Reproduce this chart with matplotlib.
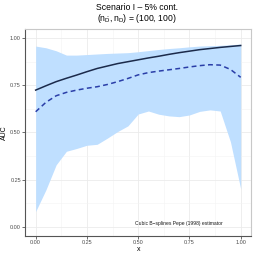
import numpy as np
import matplotlib.pyplot as plt
from matplotlib.ticker import MultipleLocator

plt.rcParams['font.family'] = ['Liberation Sans', 'DejaVu Sans']
plt.rcParams['mathtext.fontset'] = 'custom'
plt.rcParams['mathtext.rm'] = 'Liberation Sans'

# Data
x = [0.0, 0.05, 0.1, 0.15, 0.2, 0.25, 0.3, 0.35, 0.4, 0.45, 0.5, 0.55, 0.6, 0.65, 0.7, 0.75, 0.8, 0.85, 0.9, 0.95, 1.0]
auc_true = [0.725, 0.748, 0.770, 0.788, 0.805, 0.823, 0.840, 0.853, 0.866, 0.876, 0.886, 0.896, 0.905, 0.915, 0.924, 0.932, 0.940, 0.946, 0.952, 0.957, 0.962]
auc_est = [0.610, 0.660, 0.695, 0.713, 0.725, 0.735, 0.743, 0.755, 0.770, 0.787, 0.806, 0.818, 0.826, 0.833, 0.840, 0.848, 0.855, 0.860, 0.858, 0.835, 0.793]
lower = [0.080, 0.195, 0.328, 0.400, 0.415, 0.432, 0.437, 0.470, 0.505, 0.535, 0.598, 0.614, 0.597, 0.588, 0.584, 0.593, 0.612, 0.620, 0.614, 0.450, 0.200]
upper = [0.959, 0.950, 0.934, 0.911, 0.911, 0.914, 0.917, 0.920, 0.922, 0.924, 0.929, 0.935, 0.941, 0.946, 0.950, 0.955, 0.959, 0.961, 0.963, 0.966, 0.970]

xticks = [0.0, 0.25, 0.5, 0.75, 1.0]
yticks = [0.0, 0.25, 0.5, 0.75, 1.0]

fig = plt.figure(figsize=(2.54, 2.54), dpi=100)
ax = fig.add_axes([0.1, 0.071, 0.888, 0.815])

ax.fill_between(x, lower, upper, color='#bfdfff', lw=0, zorder=2)
ax.plot(x, auc_true, color='#1b2a4a', lw=1.1, zorder=3)
ax.plot(x, auc_est, color='#2a3ea8', lw=1.1, ls=(0, (3.2, 2.2)), zorder=3)

ax.set_xlim(-0.05, 1.05)
ax.set_ylim(-0.05, 1.05)
ax.set_xticks(xticks)
ax.set_yticks(yticks)
ax.set_xticklabels(['%.2f' % v for v in xticks])
ax.set_yticklabels(['%.2f' % v for v in yticks])
ax.xaxis.set_minor_locator(MultipleLocator(0.125))
ax.yaxis.set_minor_locator(MultipleLocator(0.125))
ax.grid(which='major', color='#ebebeb', lw=0.6, zorder=0)
ax.grid(which='minor', color='#f3f3f3', lw=0.4, zorder=0)
ax.set_axisbelow(True)
ax.tick_params(which='major', labelsize=4, labelcolor='#4d4d4d', color='#333333', length=2, width=0.5, pad=1.2)
ax.tick_params(which='minor', length=0)

for s in ['top', 'right']:
    ax.spines[s].set_color('#c8c8c8')
    ax.spines[s].set_linewidth(0.8)
for s in ['left', 'bottom']:
    ax.spines[s].set_color('#555555')
    ax.spines[s].set_linewidth(0.8)

ax.set_xlabel('x', fontsize=5, labelpad=0.5)
ax.set_ylabel('AUC', fontsize=5)
ax.yaxis.set_label_coords(-0.078, 0.5)

ax.text(0.70, 0.018, 'Cubic B\u2212splines Pepe (1998) estimator', fontsize=3.6, ha='center', va='center', color='#1a1a1a')

fig.text(0.54, 0.969, 'Scenario I \u2013 5% cont.', fontsize=6.2, ha='center', va='center')
fig.text(0.54, 0.928, r'$(\mathrm{n}_{\bar{\mathrm{D}}}, \mathrm{n}_{\mathrm{D}})$ = (100, 100)', fontsize=6.2, ha='center', va='center')

fig.savefig('out.png', dpi=100)
